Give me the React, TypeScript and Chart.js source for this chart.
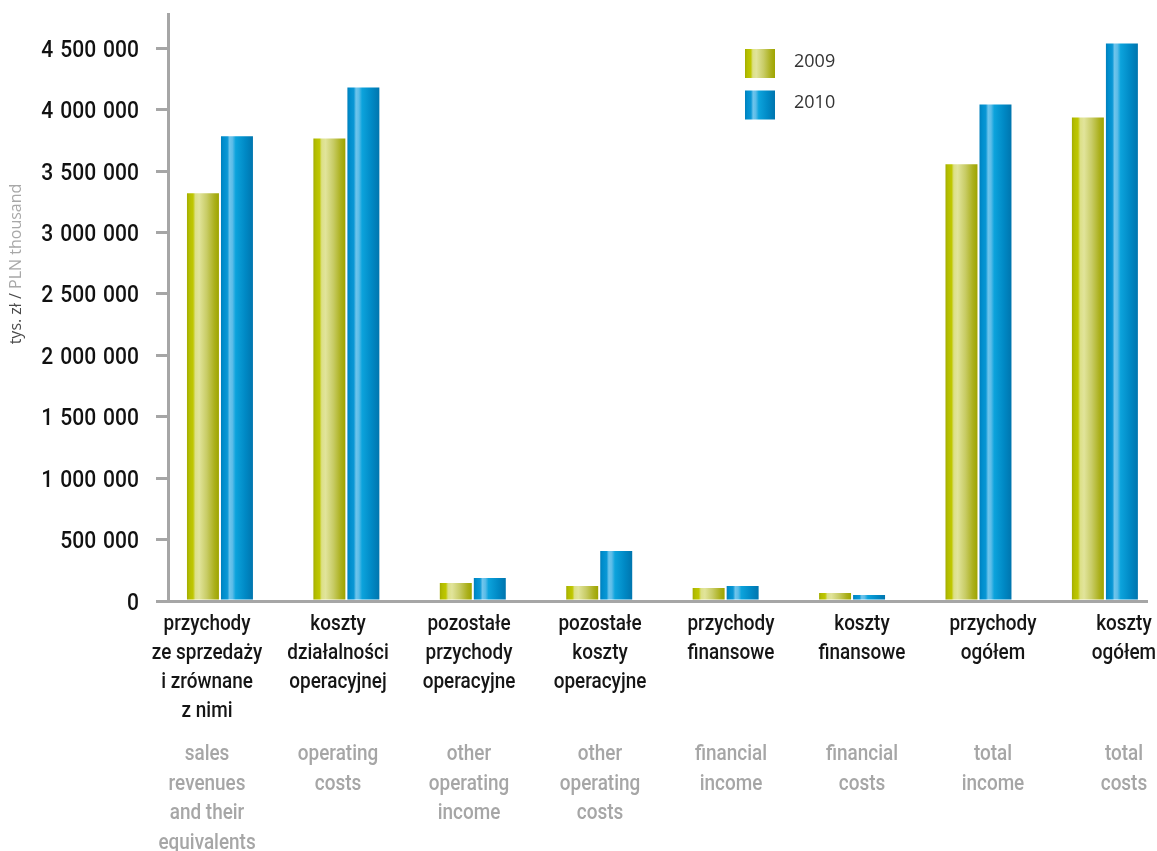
import { useEffect, useRef } from 'react';
import { Chart, registerables } from 'chart.js';

Chart.register(...registerables);

// Category labels (Polish line breaks / English translation underneath)
const categoriesPl: string[][] = [
  ['przychody', 'ze sprzedaży', 'i zrównane', 'z nimi'],
  ['koszty', 'działalności', 'operacyjnej'],
  ['pozostałe', 'przychody', 'operacyjne'],
  ['pozostałe', 'koszty', 'operacyjne'],
  ['przychody', 'finansowe'],
  ['koszty', 'finansowe'],
  ['przychody', 'ogółem'],
  ['koszty', 'ogółem'],
];
const categoriesEn: string[][] = [
  ['sales', 'revenues', 'and their', 'equivalents'],
  ['operating', 'costs'],
  ['other', 'operating', 'income'],
  ['other', 'operating', 'costs'],
  ['financial', 'income'],
  ['financial', 'costs'],
  ['total', 'income'],
  ['total', 'costs'],
];

const seriesLabels = ['2009', '2010'];
const values2009 = [3320000, 3767000, 146000, 122000, 106000, 65000, 3556000, 3938000];
const values2010 = [3784000, 4182000, 187000, 407000, 122000, 49000, 4044000, 4540000];

const yTicks = [0, 500000, 1000000, 1500000, 2000000, 2500000, 3000000, 3500000, 4000000, 4500000];
const axisTitleUnit = 'tys. zł / ';
const axisTitleUnitEn = 'PLN thousand';

type Stop = [number, string];
const GREEN_STOPS: Stop[] = [
  [0, '#a3ac00'],
  [0.07, '#b3bd00'],
  [0.19, '#bfc700'],
  [0.26, '#dce087'],
  [0.38, '#e1e49b'],
  [0.62, '#c8cc66'],
  [0.86, '#abb01c'],
  [1, '#9ea400'],
];
const BLUE_STOPS: Stop[] = [
  [0, '#007fbc'],
  [0.08, '#008ecd'],
  [0.2, '#0a97d5'],
  [0.27, '#6fc5ec'],
  [0.36, '#5bbce8'],
  [0.46, '#0ca3dc'],
  [0.76, '#0089c5'],
  [1, '#0075ae'],
];
const SERIES_STOPS = [GREEN_STOPS, BLUE_STOPS];

function makeGradient(ctx: CanvasRenderingContext2D, left: number, width: number, stops: Stop[]) {
  const g = ctx.createLinearGradient(left, 0, left + width, 0);
  stops.forEach(([o, c]) => g.addColorStop(o, c));
  return g;
}

function formatThousands(v: number) {
  return String(v).replace(/\B(?=(\d{3})+(?!\d))/g, ' ');
}

// Pick a narrow face when present, otherwise squeeze a regular one
let narrowFace: { family: string; sx: number } | null = null;
function getNarrowFace(ctx: CanvasRenderingContext2D) {
  if (narrowFace) return narrowFace;
  const probe = 'przychody 4 500 000';
  ctx.save();
  ctx.font = '40px "Liberation Sans Narrow", monospace';
  const a = ctx.measureText(probe).width;
  ctx.font = '40px monospace';
  const b = ctx.measureText(probe).width;
  ctx.restore();
  narrowFace = Math.abs(a - b) > 0.5
    ? { family: '"Liberation Sans Narrow"', sx: 1 }
    : { family: 'Roboto', sx: 0.86 };
  return narrowFace;
}

function drawCondensed(
  ctx: CanvasRenderingContext2D,
  text: string,
  x: number,
  y: number,
  align: CanvasTextAlign,
  sx: number,
) {
  ctx.save();
  ctx.translate(x, y);
  ctx.scale(sx, 1);
  ctx.textAlign = align;
  ctx.fillText(text, 0, 0);
  ctx.restore();
}

// Cylinder-like horizontal gradient on every bar
const barGradients = {
  id: 'barGradients',
  beforeDatasetsDraw(chart: any) {
    const ctx = chart.ctx as CanvasRenderingContext2D;
    chart.data.datasets.forEach((_ds: any, di: number) => {
      const meta = chart.getDatasetMeta(di);
      meta.data.forEach((el: any) => {
        const left = el.x - el.width / 2;
        const g = makeGradient(ctx, left, el.width, SERIES_STOPS[di]);
        el.options = Object.assign({}, el.options, { backgroundColor: g });
      });
    });
  },
};

// Axis texts, category captions and legend
const textLayer = {
  id: 'textLayer',
  afterDraw(chart: any) {
    const ctx = chart.ctx as CanvasRenderingContext2D;
    const area = chart.chartArea;
    const yScale = chart.scales.y;
    const labelScale = chart.scales.labelAxis;
    const face = getNarrowFace(ctx);
    ctx.save();

    // value axis labels
    ctx.fillStyle = '#111111';
    ctx.font = `500 24px ${face.family}`;
    ctx.textBaseline = 'alphabetic';
    (ctx as any).wordSpacing = face.sx < 1 ? '2px' : '4px';
    yTicks.forEach((v) => {
      drawCondensed(ctx, formatThousands(v), area.left - 29, yScale.getPixelForValue(v) + 8.5, 'right', face.sx * 1.02);
    });
    (ctx as any).wordSpacing = '0px';

    // value axis title in two tones
    ctx.save();
    ctx.font = '16px "Open Sans"';
    ctx.translate(21, 264);
    ctx.rotate(-Math.PI / 2);
    const w1 = ctx.measureText(axisTitleUnit).width;
    const w2 = ctx.measureText(axisTitleUnitEn).width;
    const start = -(w1 + w2) / 2;
    ctx.textAlign = 'left';
    ctx.fillStyle = '#4a4a4a';
    ctx.fillText(axisTitleUnit, start, 0);
    ctx.fillStyle = '#a8a8a8';
    ctx.fillText(axisTitleUnitEn, start + w1, 0);
    ctx.restore();

    // category captions
    ctx.font = `500 22px ${face.family}`;
    categoriesPl.forEach((lines, i) => {
      const cx = labelScale.getPixelForValue(i);
      ctx.fillStyle = '#151515';
      lines.forEach((t, k) => drawCondensed(ctx, t, cx, area.bottom + 29 + k * 29, 'center', face.sx));
      ctx.fillStyle = '#a6a6a6';
      categoriesEn[i].forEach((t, k) =>
        drawCondensed(ctx, t, cx, area.bottom + 159 + k * 29.5, 'center', face.sx),
      );
    });

    // legend
    ctx.font = '18px "Open Sans"';
    ctx.textBaseline = 'middle';
    ctx.textAlign = 'left';
    seriesLabels.forEach((label, i) => {
      const top = 49 + i * 41.5;
      ctx.fillStyle = makeGradient(ctx, 745, 30, SERIES_STOPS[i]);
      ctx.fillRect(745, top, 30, 29);
      ctx.fillStyle = '#333333';
      ctx.fillText(label, 794, top + 12.5);
    });

    ctx.restore();
  },
};

export default function App() {
  const ref = useRef<HTMLCanvasElement>(null);

  useEffect(() => {
    const canvas = ref.current;
    if (!canvas) return;
    const chart = new Chart(canvas, {
      type: 'bar',
      data: {
        datasets: [
          {
            label: seriesLabels[0],
            data: values2009.map((y, i) => ({ x: i, y })),
            backgroundColor: '#c2c74f',
            borderWidth: 0,
            xAxisID: 'x',
          },
          {
            label: seriesLabels[1],
            data: values2010.map((y, i) => ({ x: i, y })),
            backgroundColor: '#0096d2',
            borderWidth: 0,
            xAxisID: 'x',
          },
        ],
      },
      options: {
        responsive: false,
        animation: false,
        devicePixelRatio: 1,
        layout: { padding: { top: 14, right: 10, left: 0, bottom: 0 } },
        datasets: { bar: { categoryPercentage: 0.538, barPercentage: 0.94 } },
        plugins: {
          legend: { display: false },
          tooltip: { enabled: false },
          title: { display: false },
        },
        scales: {
          x: {
            type: 'linear',
            position: 'bottom',
            min: -0.411,
            max: 7.333,
            offset: false,
            grid: { display: false },
            ticks: { display: false },
            border: { display: true, color: '#a6a6a6', width: 3 },
            afterFit: (s: any) => {
              s.height = 250;
            },
          },
          // caption grid: captions sit on a slightly wider pitch than the bar groups
          labelAxis: {
            type: 'linear',
            axis: 'x',
            position: 'bottom',
            min: -0.298,
            max: 7.176,
            offset: false,
            grid: { display: false },
            ticks: { display: false },
            border: { display: false },
            afterFit: (s: any) => {
              s.height = 0;
            },
          },
          y: {
            type: 'linear',
            min: 0,
            max: 4780000,
            afterBuildTicks: (s: any) => {
              s.ticks = yTicks.map((value) => ({ value }));
            },
            ticks: { display: false },
            grid: {
              drawOnChartArea: false,
              drawTicks: true,
              tickLength: 12,
              color: '#a6a6a6',
              lineWidth: 3,
            },
            border: { display: true, color: '#a6a6a6', width: 3 },
            afterFit: (s: any) => {
              s.width = 168;
            },
          },
        },
      } as any,
      plugins: [barGradients, textLayer],
    });
    return () => chart.destroy();
  }, []);

  return (
    <div style={{ position: 'absolute', left: 0, top: 0, width: 1157, height: 851, background: '#ffffff' }}>
      <canvas ref={ref} width={1157} height={851} style={{ display: 'block' }} />
    </div>
  );
}
